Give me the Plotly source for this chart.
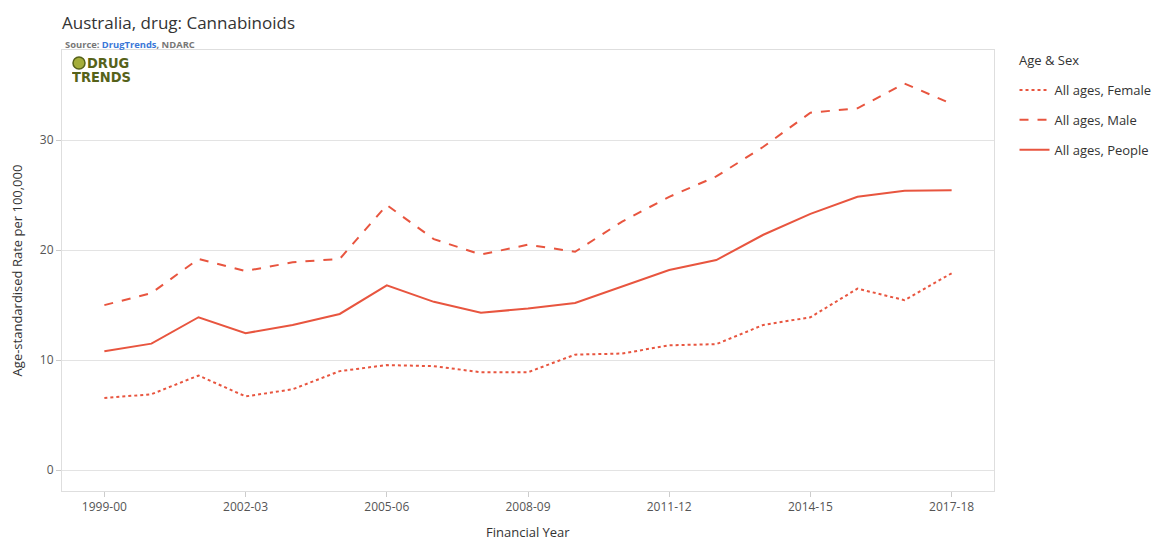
import plotly.graph_objects as go

years = ["1999-00", "2000-01", "2001-02", "2002-03", "2003-04", "2004-05", "2005-06",
         "2006-07", "2007-08", "2008-09", "2009-10", "2010-11", "2011-12", "2012-13",
         "2013-14", "2014-15", "2015-16", "2016-17", "2017-18"]

female = [6.55, 6.9, 8.6, 6.7, 7.35, 9.0, 9.55, 9.45, 8.9, 8.9, 10.5, 10.6, 11.35,
          11.45, 13.2, 13.9, 16.5, 15.45, 17.9]
male = [15.0, 16.1, 19.2, 18.1, 18.9, 19.2, 24.1, 21.0, 19.6, 20.5, 19.85, 22.6, 24.85,
        26.7, 29.4, 32.5, 32.9, 35.15, 33.3]
people = [10.8, 11.5, 13.9, 12.45, 13.2, 14.2, 16.8, 15.3, 14.3, 14.7, 15.2, 16.7, 18.2,
          19.1, 21.4, 23.3, 24.85, 25.4, 25.45]

tick_years = ["1999-00", "2002-03", "2005-06", "2008-09", "2011-12", "2014-15", "2017-18"]

color = "#e8553f"
font = "Open Sans"
logo_color = "#56621a"

fig = go.Figure()
fig.add_trace(go.Scatter(x=years, y=female, mode="lines", name="All ages, Female",
                         legendgroup="f", line=dict(color=color, width=2, dash="dot")))
fig.add_trace(go.Scatter(x=years, y=male, mode="lines", name="All ages, Male",
                         legendgroup="m", line=dict(color=color, width=2, dash="dash")))
fig.add_trace(go.Scatter(x=years, y=people, mode="lines", name="All ages, People",
                         legendgroup="p", line=dict(color=color, width=2, dash="solid")))

fig.update_layout(
    width=1153, height=534,
    margin=dict(l=54, r=167, t=42, b=51, autoexpand=False),
    paper_bgcolor="white", plot_bgcolor="white",
    font=dict(family=font, size=12, color="#333"),
    showlegend=True,
    legend=dict(x=1.022, xanchor="left", y=0.9433, yanchor="top",
                font=dict(size=13, color="#333"), traceorder="grouped", tracegroupgap=10,
                itemwidth=30),
    xaxis=dict(type="category", range=[-0.9, 18.9], tickmode="array",
               tickvals=tick_years, ticktext=tick_years,
               showgrid=False, showline=True, mirror=True, linecolor="#dedede",
               ticks="outside", ticklen=5, tickcolor="#cccccc",
               tickfont=dict(size=12, color="#555")),
    yaxis=dict(range=[-1.9, 38.2], tickvals=[0, 10, 20, 30],
               showgrid=True, gridcolor="#e3e3e3", zeroline=False,
               showline=True, mirror=True, linecolor="#dedede",
               ticks="outside", ticklen=5, tickcolor="#cccccc",
               tickfont=dict(size=12, color="#555"),
               title=dict(text="Age-standardised Rate per 100,000", font=dict(size=13, color="#333"), standoff=16)),
)

fig.add_annotation(text="Financial Year", xref="paper", yref="paper",
                   x=0.5, y=0, yshift=-41, xanchor="center", yanchor="middle",
                   showarrow=False, font=dict(size=13, color="#333"))
fig.add_annotation(text="Age & Sex", xref="paper", yref="paper",
                   x=1.0247, y=1, yshift=-10, xanchor="left", yanchor="middle",
                   showarrow=False, font=dict(size=13, color="#333"))
fig.add_annotation(text="Australia, drug: Cannabinoids", xref="paper", yref="paper",
                   x=0, y=1, xshift=-2, yshift=28, xanchor="left", yanchor="middle",
                   showarrow=False, font=dict(size=17, color="#333"))
fig.add_annotation(text="<b>Source: <span style='color:#3b78d8'>DrugTrends</span>, NDARC</b>",
                   xref="paper", yref="paper", x=0, y=1, xshift=1, yshift=6,
                   xanchor="left", yanchor="middle", showarrow=False,
                   font=dict(size=9.4, color="#777"))
fig.add_annotation(text="<b>DRUG</b>", xref="paper", yref="paper",
                   x=0, y=1, xshift=24, yshift=-13, xanchor="left", yanchor="middle",
                   showarrow=False, borderpad=0, height=12,
                   font=dict(size=14.5, color=logo_color, family="DejaVu Sans Condensed"))
fig.add_annotation(text="<b>TRENDS</b>", xref="paper", yref="paper",
                   x=0, y=1, xshift=9, yshift=-27, xanchor="left", yanchor="middle",
                   showarrow=False, borderpad=0, height=12,
                   font=dict(size=14.5, color=logo_color, family="DejaVu Sans Condensed"))
fig.add_shape(type="circle", xref="paper", yref="paper",
              xsizemode="pixel", ysizemode="pixel", xanchor=0, yanchor=1,
              x0=11, x1=23, y0=-19, y1=-7,
              fillcolor="#a4ad3a", line=dict(color=logo_color, width=1.5))

fig.write_html("out.html")
